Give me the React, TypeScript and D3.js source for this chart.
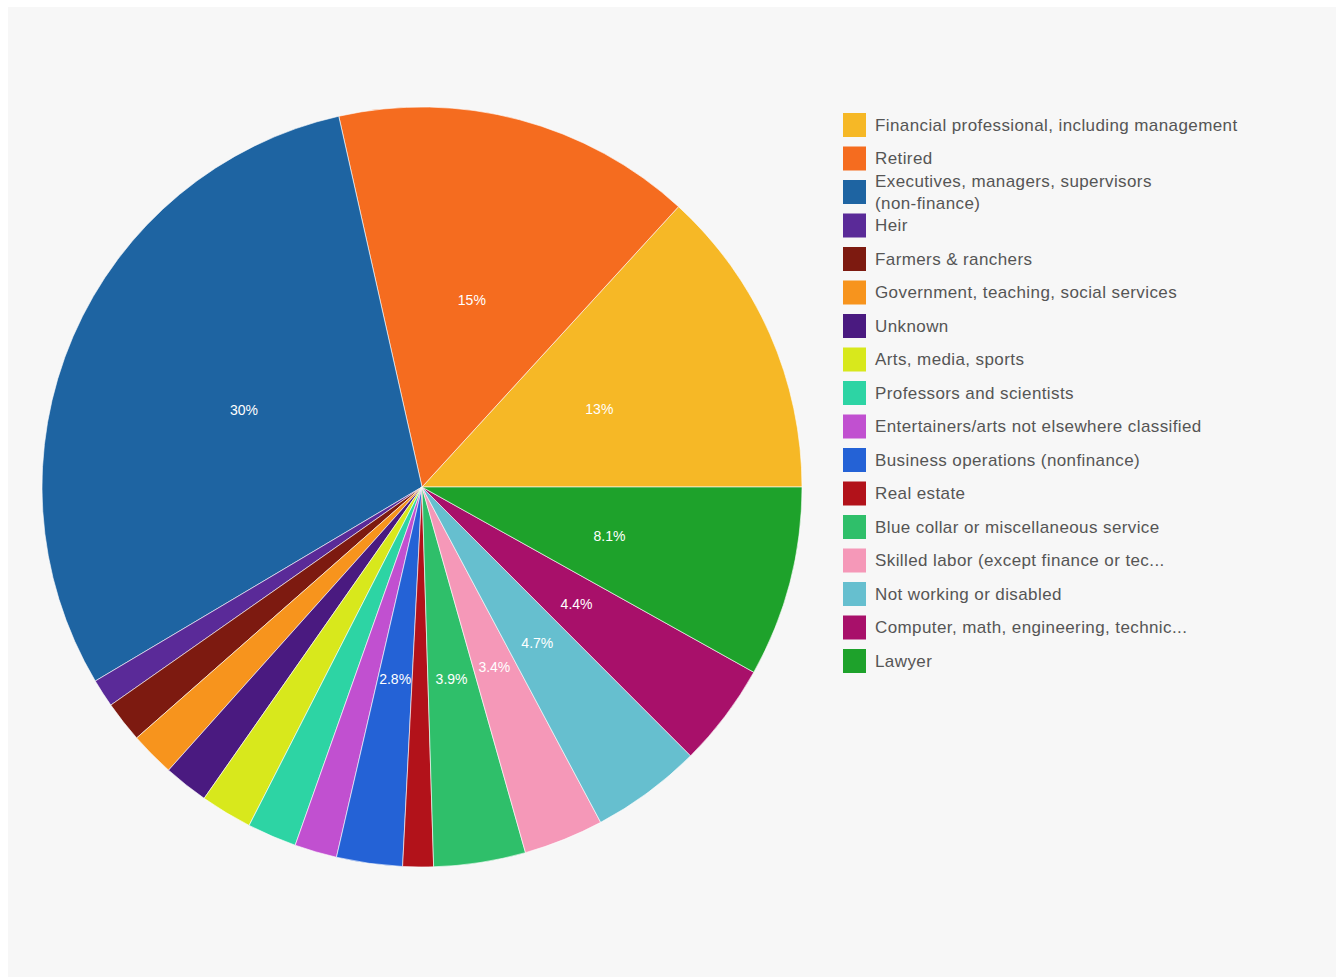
import React from "react";
import * as d3 from "d3";

const categories: string[] = [
  "Financial professional, including management",
  "Retired",
  "Executives, managers, supervisors (non-finance)",
  "Heir",
  "Farmers & ranchers",
  "Government, teaching, social services",
  "Unknown",
  "Arts, media, sports",
  "Professors and scientists",
  "Entertainers/arts not elsewhere classified",
  "Business operations (nonfinance)",
  "Real estate",
  "Blue collar or miscellaneous service",
  "Skilled labor (except finance or tech)",
  "Not working or disabled",
  "Computer, math, engineering, technical",
  "Lawyer",
];

const legendLines: string[][] = [
  ["Financial professional, including management"],
  ["Retired"],
  ["Executives, managers, supervisors", "(non-finance)"],
  ["Heir"],
  ["Farmers & ranchers"],
  ["Government, teaching, social services"],
  ["Unknown"],
  ["Arts, media, sports"],
  ["Professors and scientists"],
  ["Entertainers/arts not elsewhere classified"],
  ["Business operations (nonfinance)"],
  ["Real estate"],
  ["Blue collar or miscellaneous service"],
  ["Skilled labor (except finance or tec..."],
  ["Not working or disabled"],
  ["Computer, math, engineering, technic..."],
  ["Lawyer"],
];

const values: number[] = [13.2, 15.3, 30.0, 1.2, 1.75, 1.9, 1.9, 2.2, 2.1, 1.8, 2.8, 1.3, 3.9, 3.4, 4.7, 4.4, 8.1];

const colors: string[] = [
  "#f6b826", "#f56c1f", "#1e64a2", "#5a2a98", "#7d1a10", "#f7941d", "#4a1a80",
  "#d8e81c", "#2dd4a4", "#c150d0", "#2462d6", "#b2121a", "#2fbf6a", "#f598b8",
  "#66bfcf", "#a8106a", "#1ea22b",
];

export default function App() {
  const cx = 422, cy = 487, R = 380;
  const total = d3.sum(values);
  const pie = d3
    .pie<number>()
    .sort(null)
    .startAngle(Math.PI / 2)
    .endAngle(Math.PI / 2 - 2 * Math.PI);
  const arcs = pie(values);
  const arc = d3.arc<d3.PieArcDatum<number>>().innerRadius(0).outerRadius(R);
  const labelArc = d3.arc<d3.PieArcDatum<number>>().innerRadius(R * 1.02).outerRadius(0);
  const fmt = (v: number) => {
    const p = (v / total) * 100;
    return p >= 10 ? `${Math.round(p)}%` : `${p.toFixed(1)}%`;
  };
  const legendY = d3.scaleLinear().domain([0, 1]).range([125, 158.5]);
  const font = "'Liberation Sans', Arial, sans-serif";

  return (
    <svg
      width={1343}
      height={977}
      style={{ position: "absolute", left: 0, top: 0 }}
      fontFamily={font}
    >
      <rect x={0} y={0} width={1343} height={977} fill="#ffffff" />
      <rect x={8} y={7} width={1328} height={970} fill="#f7f7f7" />
      <g transform={`translate(${cx},${cy})`}>
        {arcs.map((a, i) => (
          <path key={i} d={arc(a) || ""} fill={colors[i]} stroke="#ffffff" strokeWidth={0.6} />
        ))}
        {arcs.map((a, i) => {
          if ((a.data / total) * 100 < 2.5) return null;
          const [x, y] = labelArc.centroid(a);
          return (
            <text
              key={`l${i}`}
              x={x}
              y={y}
              textAnchor="middle"
              dominantBaseline="central"
              fontSize={14}
              fill="#ffffff"
            >
              {fmt(a.data)}
            </text>
          );
        })}
      </g>
      <g>
        {categories.map((c, i) => {
          const y = legendY(i);
          const lines = legendLines[i];
          return (
            <g key={c}>
              <rect x={843} y={y - 12} width={23} height={24} fill={colors[i]} />
              {lines.map((ln, j) => (
                <text
                  key={j}
                  x={875}
                  y={y + (j - (lines.length - 1) / 2) * 22}
                  dominantBaseline="central"
                  fontSize={17}
                  letterSpacing={0.4}
                  fill="#555555"
                >
                  {ln}
                </text>
              ))}
            </g>
          );
        })}
      </g>
    </svg>
  );
}
